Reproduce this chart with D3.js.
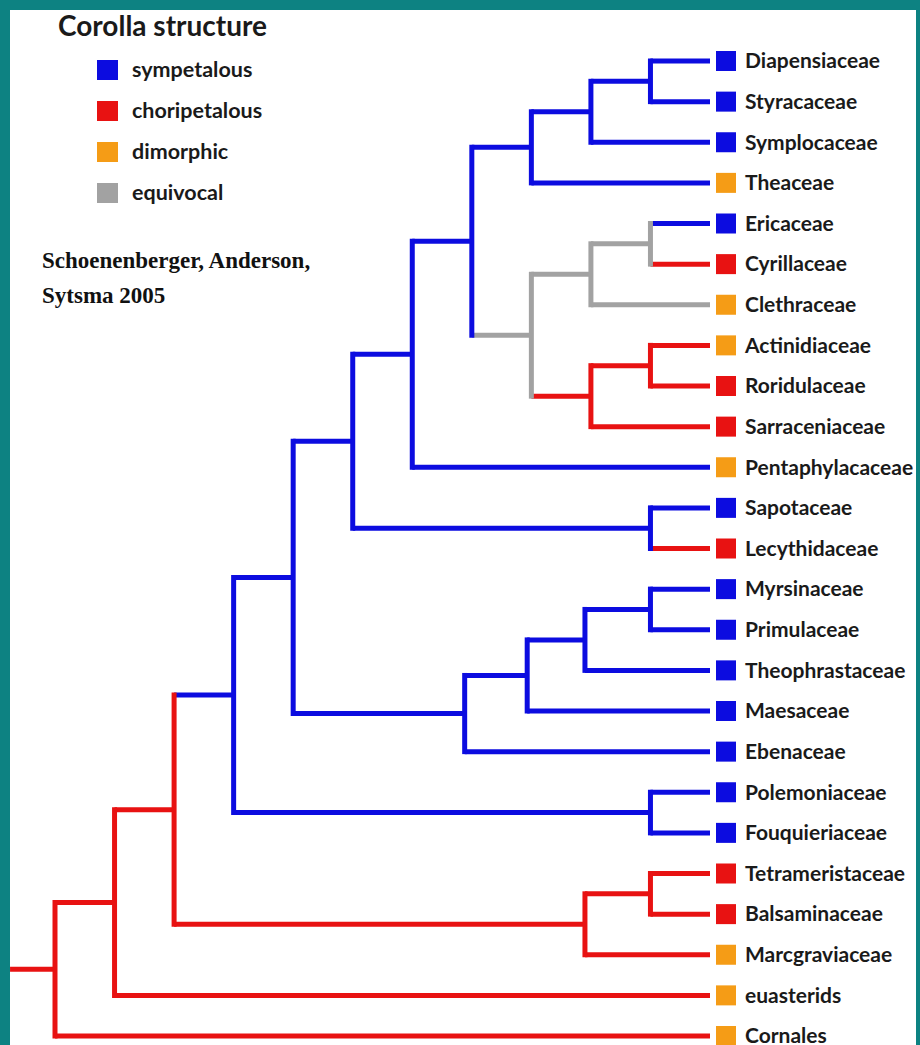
<!DOCTYPE html>
<html>

<head>
    <meta charset="utf-8">
    <style>
        body {
            margin: 0;
            background: #ffffff;
        }

        svg {
            display: block;
        }

        .leaf-label {
            font-family: Lato, 'Open Sans', sans-serif;
            font-weight: bold;
            font-size: 21px;
            fill: #1a1a1a;
        }

        .legend-title {
            font-family: Lato, 'Open Sans', sans-serif;
            font-weight: bold;
            font-size: 28px;
            fill: #1a1a1a;
        }

        .legend-label {
            font-family: Lato, 'Open Sans', sans-serif;
            font-weight: bold;
            font-size: 21.5px;
            fill: #1a1a1a;
        }

        .citation {
            font-family: 'Liberation Serif', 'DejaVu Serif', serif;
            font-weight: bold;
            font-size: 23px;
            fill: #111;
        }
    </style>
</head>

<body>
    <svg width="920" height="1045"></svg>
</body>

<script src="https://d3js.org/d3.v7.min.js"></script>

<script>
    // character states
    let stateNames = ["sym", "cho", "dim", "equ"]
    let stateLabels = ["sympetalous", "choripetalous", "dimorphic", "equivocal"]
    let stateColors = ["#0c0ce0", "#e81212", "#f59c16", "#a2a2a2"]

    // internal clades: id, parent, level (distance from root), branch state (null = same as parent)
    let cladeIds = ["root", "n1", "n2", "n3", "n4", "n5", "n6", "n7", "n8a", "n9a", "n10a",
        "n8b", "n9b", "n10b", "n9c", "n10c", "n10d", "n7e", "n8e", "n9e", "n10e", "n10f", "n9g", "n10g"]
    let cladeParents = ["", "root", "n1", "n2", "n3", "n4", "n5", "n6", "n7", "n8a", "n9a",
        "n7", "n8b", "n9b", "n8b", "n9c", "n5", "n4", "n7e", "n8e", "n9e", "n3", "n2", "n9g"]
    let cladeLevels = [0, 1, 2, 3, 4, 5, 6, 7, 8, 9, 10,
        8, 9, 10, 9, 10, 10, 6.88, 7.93, 8.9, 10, 10, 8.9, 10]
    let cladeBranch = ["cho", null, null, "sym", null, null, null, null, null, null, null,
        "equ", null, null, "cho", null, null, null, null, null, null, null, null, null]

    // tips, top to bottom
    let leafNames = ["Diapensiaceae", "Styracaceae", "Symplocaceae", "Theaceae", "Ericaceae",
        "Cyrillaceae", "Clethraceae", "Actinidiaceae", "Roridulaceae", "Sarraceniaceae",
        "Pentaphylacaceae", "Sapotaceae", "Lecythidaceae", "Myrsinaceae", "Primulaceae",
        "Theophrastaceae", "Maesaceae", "Ebenaceae", "Polemoniaceae", "Fouquieriaceae",
        "Tetrameristaceae", "Balsaminaceae", "Marcgraviaceae", "euasterids", "Cornales"]
    let leafParents = ["n10a", "n10a", "n9a", "n8a", "n10b",
        "n10b", "n9b", "n10c", "n10c", "n9c",
        "n6", "n10d", "n10d", "n10e", "n10e",
        "n9e", "n8e", "n7e", "n10f", "n10f",
        "n10g", "n10g", "n9g", "n1", "root"]
    let leafStates = ["sym", "sym", "sym", "dim", "sym",
        "cho", "dim", "dim", "cho", "cho",
        "dim", "sym", "cho", "sym", "sym",
        "sym", "sym", "sym", "sym", "sym",
        "cho", "cho", "dim", "dim", "dim"]
    let leafBranch = [null, null, null, null, "sym",
        "cho", null, null, null, null,
        null, null, "cho", null, null,
        null, null, null, null, null,
        null, null, null, null, null]
    let leafLevel = 11
    let rootStemLevel = -0.755

    let svg = d3.select("svg")
    let color = d3.scaleOrdinal().domain(stateNames).range(stateColors)

    // frame
    svg.append("rect")
        .attr("width", 920).attr("height", 1045)
        .style("fill", "#0d8282")
    svg.append("rect")
        .attr("x", 10).attr("y", 10)
        .attr("width", 906).attr("height", 1040)
        .style("fill", "#ffffff")

    // build table for stratify
    let rows = cladeIds.map((id, i) => ({ id: id, parent: cladeParents[i], level: cladeLevels[i], branch: cladeBranch[i] }))
    leafNames.forEach((name, i) => {
        rows.push({ id: name, parent: leafParents[i], level: leafLevel, branch: leafBranch[i], state: leafStates[i], leaf: true })
    })

    let root = d3.stratify()
        .id(d => d.id)
        .parentId(d => d.parent || null)(rows)

    let x = d3.scaleLinear()
        .domain([0, leafLevel])
        .range([55, 710])

    let y = d3.scalePoint()
        .domain(leafNames)
        .range([61, 1036])

    // y of each node: tips from the scale, clades at the middle of their children
    root.eachAfter(function (n) {
        if (n.children) {
            let ys = n.children.map(c => c.yPos)
            n.yMin = d3.min(ys)
            n.yMax = d3.max(ys)
            n.yPos = (n.yMin + n.yMax) / 2
        } else {
            n.yPos = y(n.id)
        }
    })
    root.eachBefore(function (n) {
        n.col = n.data.branch || (n.parent ? n.parent.col : "cho")
    })

    let lw = 5
    let tree = svg.append("g")

    // horizontal branches
    tree.selectAll(".hbranch")
        .data(root.descendants().filter(n => n.parent))
        .join("line")
        .attr("class", "hbranch")
        .attr("x1", n => x(n.parent.data.level))
        .attr("x2", n => x(n.data.level))
        .attr("y1", n => n.yPos)
        .attr("y2", n => n.yPos)
        .style("stroke", n => color(n.col))
        .style("stroke-width", lw)

    // root stem
    tree.append("line")
        .attr("x1", x(rootStemLevel))
        .attr("x2", x(0))
        .attr("y1", root.yPos)
        .attr("y2", root.yPos)
        .style("stroke", color(root.col))
        .style("stroke-width", lw)

    // vertical connectors
    tree.selectAll(".vbranch")
        .data(root.descendants().filter(n => n.children))
        .join("line")
        .attr("class", "vbranch")
        .attr("x1", n => x(n.data.level))
        .attr("x2", n => x(n.data.level))
        .attr("y1", n => n.yMin - lw / 2)
        .attr("y2", n => n.yMax + lw / 2)
        .style("stroke", n => color(n.col))
        .style("stroke-width", lw)

    // tip squares and names
    let tips = svg.append("g")
        .selectAll(".tip")
        .data(root.leaves())
        .join("g")
        .attr("class", "tip")
        .attr("transform", n => `translate(${x(leafLevel)},${n.yPos})`)

    tips.append("rect")
        .attr("x", 6)
        .attr("y", -10)
        .attr("width", 20)
        .attr("height", 20)
        .style("fill", n => color(n.data.state))

    tips.append("text")
        .attr("class", "leaf-label")
        .attr("x", 35)
        .attr("dy", "0.35em")
        .text(n => n.id)

    // legend
    svg.append("text")
        .attr("class", "legend-title")
        .attr("x", 58)
        .attr("y", 36)
        .text("Corolla structure")

    let ly = d3.scalePoint()
        .domain(stateNames)
        .range([70, 193])

    let legend = svg.append("g")
        .selectAll(".key")
        .data(stateNames)
        .join("g")
        .attr("class", "key")
        .attr("transform", d => `translate(97,${ly(d)})`)

    legend.append("rect")
        .attr("y", -10)
        .attr("width", 21)
        .attr("height", 20)
        .style("fill", d => color(d))

    legend.append("text")
        .attr("class", "legend-label")
        .attr("x", 35)
        .attr("dy", "0.32em")
        .text((d, i) => stateLabels[i])

    // citation
    let cite = svg.append("text")
        .attr("class", "citation")
        .attr("x", 42)
        .attr("y", 268)
    cite.append("tspan").attr("x", 42).text("Schoenenberger, Anderson,")
    cite.append("tspan").attr("x", 42).attr("dy", 35).text("Sytsma 2005")
</script>

</html>
